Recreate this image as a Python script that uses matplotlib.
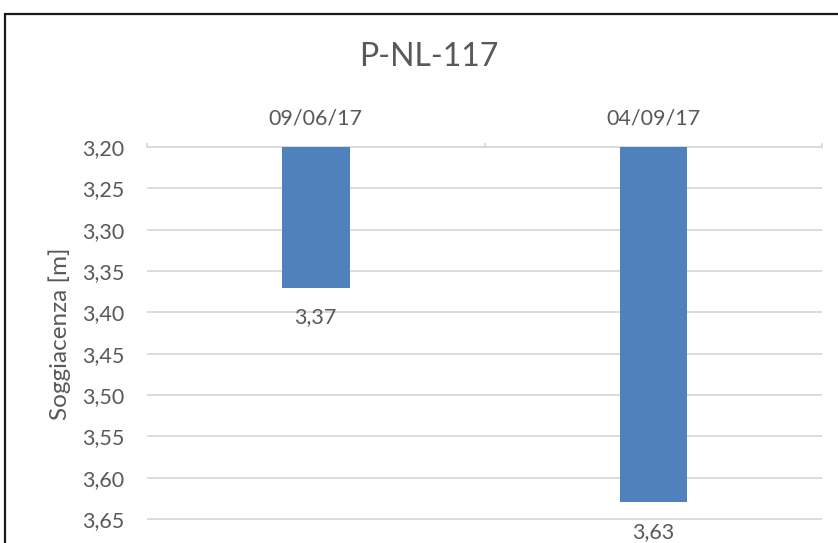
import matplotlib
matplotlib.use("Agg")
import matplotlib.pyplot as plt
from matplotlib.patches import Rectangle

# Data
dates = ["09/06/17", "04/09/17"]
depths = [3.37, 3.63]
depth_labels = ["3,37", "3,63"]
y_ticks = [3.20, 3.25, 3.30, 3.35, 3.40, 3.45, 3.50, 3.55, 3.60, 3.65]
y_base = 3.20

plt.rcParams["font.family"] = ["Lato", "DejaVu Sans"]
text_color = "#595959"
grid_color = "#d9d9d9"
bar_color = "#4f81bd"

W, H = 838, 543
fig = plt.figure(figsize=(W / 100, H / 100), dpi=100)

# plot area in pixel coordinates
left, right, top, bottom = 147, 822, 147, 543
ax = fig.add_axes([left / W, 1 - bottom / H, (right - left) / W, (bottom - top) / H])

x = list(range(len(dates)))
heights = [d - y_base for d in depths]
ax.bar(x, heights, bottom=y_base, width=0.2, color=bar_color, zorder=3)

ax.set_xlim(-0.5, len(dates) - 0.5)
ax.set_ylim(y_base + (bottom - top) / 41.33 * 0.05, y_base)

ax.set_yticks(y_ticks)
ax.set_yticklabels([f"{v:.2f}".replace(".", ",") for v in y_ticks])
ax.yaxis.grid(True, color=grid_color, linewidth=1.3, zorder=0)
ax.tick_params(axis="y", length=0, pad=16.5, labelsize=15.5, labelcolor=text_color)

ax.xaxis.tick_top()
ax.set_xticks(x)
ax.set_xticklabels(dates)
ax.tick_params(axis="x", length=0, pad=13, labelsize=15.5, labelcolor=text_color)
# category separators
for b in [-0.5, 0.5, 1.5]:
    ax.plot([b, b], [y_base, y_base - 0.004], color=grid_color, lw=1.3,
            clip_on=False, zorder=2)

for s in ["left", "right", "bottom"]:
    ax.spines[s].set_visible(False)
ax.spines["top"].set_color(grid_color)
ax.spines["top"].set_linewidth(1.3)

for xi, d, lab in zip(x, depths, depth_labels):
    ax.annotate(lab, (xi, d), xytext=(0, -14), textcoords="offset points",
                ha="center", va="top", fontsize=15.5, color=text_color)

ax.set_ylabel("Soggiacenza [m]", fontsize=17.5, color=text_color)
ax.yaxis.set_label_coords(-0.112, 0.529)

fig.text(429 / W, 1 - 57 / H, "P-NL-117", ha="center", va="center",
         fontsize=23, color=text_color)

# chart frame
fig.patches.append(Rectangle((5 / W, -0.1), 1.2, 1 - 14 / H + 0.1,
                             transform=fig.transFigure, fill=False,
                             edgecolor="#1a1a1a", linewidth=1.6))

fig.savefig("out.png", dpi=100)
